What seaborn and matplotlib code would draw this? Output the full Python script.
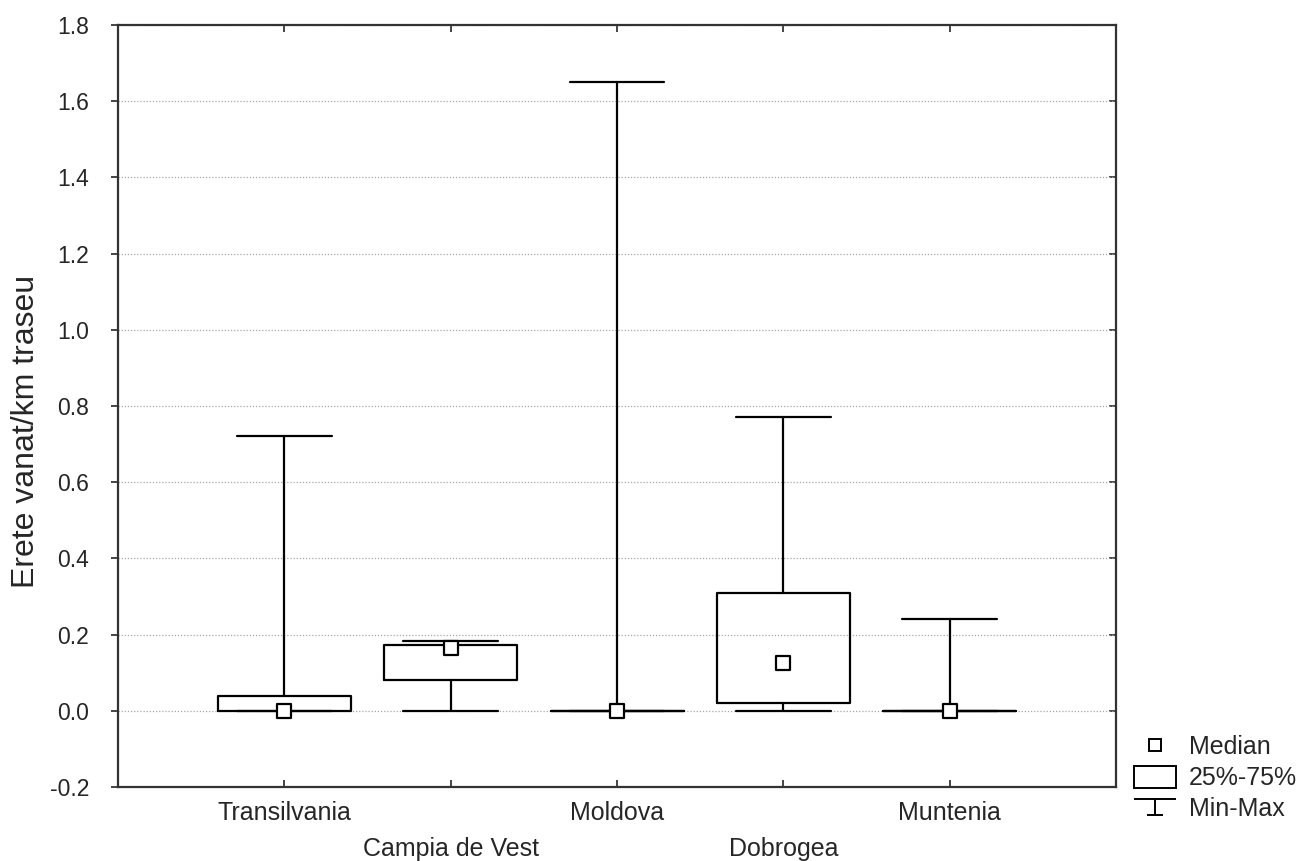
import numpy as np
import pandas as pd
import seaborn as sns
import matplotlib.pyplot as plt
from matplotlib.lines import Line2D
from matplotlib.patches import Patch
from matplotlib.path import Path

# values (box = 25%-75%, whiskers = min-max)
regions = ["Transilvania", "Campia de Vest", "Moldova", "Dobrogea", "Muntenia"]
mins = [0.0, 0.0, 0.0, 0.0, 0.0]
q1 = [0.0, 0.08, 0.0, 0.02, 0.0]
medians = [0.0, 0.165, 0.0, 0.125, 0.0]
q3 = [0.04, 0.172, 0.0, 0.308, 0.0]
maxs = [0.72, 0.183, 1.65, 0.772, 0.24]
yticks = [-0.2, 0.0, 0.2, 0.4, 0.6, 0.8, 1.0, 1.2, 1.4, 1.6, 1.8]

sns.set_style("white")
plt.rcParams["font.family"] = ["Liberation Sans", "DejaVu Sans"]

fig = plt.figure(figsize=(13.03, 8.61), dpi=100)
ax = fig.add_axes([0.0906, 0.0859, 0.7659, 0.8851])

pos = np.arange(len(regions))
stats = []
for i, name in enumerate(regions):
    stats.append(dict(label=name, med=medians[i], q1=q1[i], q3=q3[i],
                      whislo=mins[i], whishi=maxs[i], fliers=[]))

line_kw = dict(color="black", linewidth=1.6)
ax.bxp(stats, positions=pos, widths=0.8, capwidths=0.57, showfliers=False,
       boxprops=line_kw, whiskerprops=line_kw, capprops=line_kw,
       medianprops=dict(linewidth=0), manage_ticks=False)

# median squares
df = pd.DataFrame({"pos": pos, "median": medians})
sns.scatterplot(data=df, x="pos", y="median", marker="s", s=105,
                facecolor="white", edgecolor="black", linewidth=1.6,
                zorder=5, ax=ax)

ax.set_xlim(-1, 5)
ax.set_ylim(-0.2, 1.8)
ax.set_yticks(yticks)
ax.set_yticklabels([f"{v:.1f}" for v in yticks])
ax.set_xticks(pos)
ax.set_xticklabels(regions)
for lab in ax.get_xticklabels()[1::2]:
    lab.set_y(-0.047)
ax.set_xlabel("")
ax.set_ylabel("Erete vanat/km traseu", fontsize=23)
ax.yaxis.set_label_coords(-0.077, 0.467)

ax.yaxis.grid(True, linestyle=(0, (1, 1.5)), color="#a8a8a8", linewidth=0.9)
ax.set_axisbelow(True)
ax.tick_params(axis="x", direction="in", top=True, bottom=True, length=5,
               width=1.2, labelsize=18, pad=10)
ax.tick_params(axis="y", direction="out", left=True, length=5, width=1.2,
               labelsize=16.5, pad=16)
for sp in ax.spines.values():
    sp.set_color("#333333")
    sp.set_linewidth(1.6)

sec = ax.secondary_yaxis("right")
sec.set_yticks(yticks)
sec.tick_params(direction="in", length=5, width=1.2, labelright=False)
sec.spines["right"].set_visible(False)

# legend
minmax = Path([(-1, 0.4), (1, 0.4), (0, 0.4), (0, -0.4), (-0.4, -0.4), (0.4, -0.4)],
              [Path.MOVETO, Path.LINETO, Path.MOVETO, Path.LINETO,
               Path.MOVETO, Path.LINETO])
handles = [
    Line2D([], [], linestyle="none", marker="s", markersize=8,
           markerfacecolor="white", markeredgecolor="black", markeredgewidth=1.4),
    Patch(facecolor="white", edgecolor="black", linewidth=1.4),
    Line2D([], [], linestyle="none", marker=minmax, markersize=30,
           markerfacecolor="none", markeredgecolor="black", markeredgewidth=1.4),
]
fig.legend(handles, ["Median", "25%-75%", "Min-Max"], loc="lower left",
           bbox_to_anchor=(0.868, 0.043), frameon=False, fontsize=18,
           handlelength=1.7, handleheight=1.0, handletextpad=0.5,
           labelspacing=0.25, borderpad=0.1, borderaxespad=0)

fig.savefig("out.png", dpi=100)
